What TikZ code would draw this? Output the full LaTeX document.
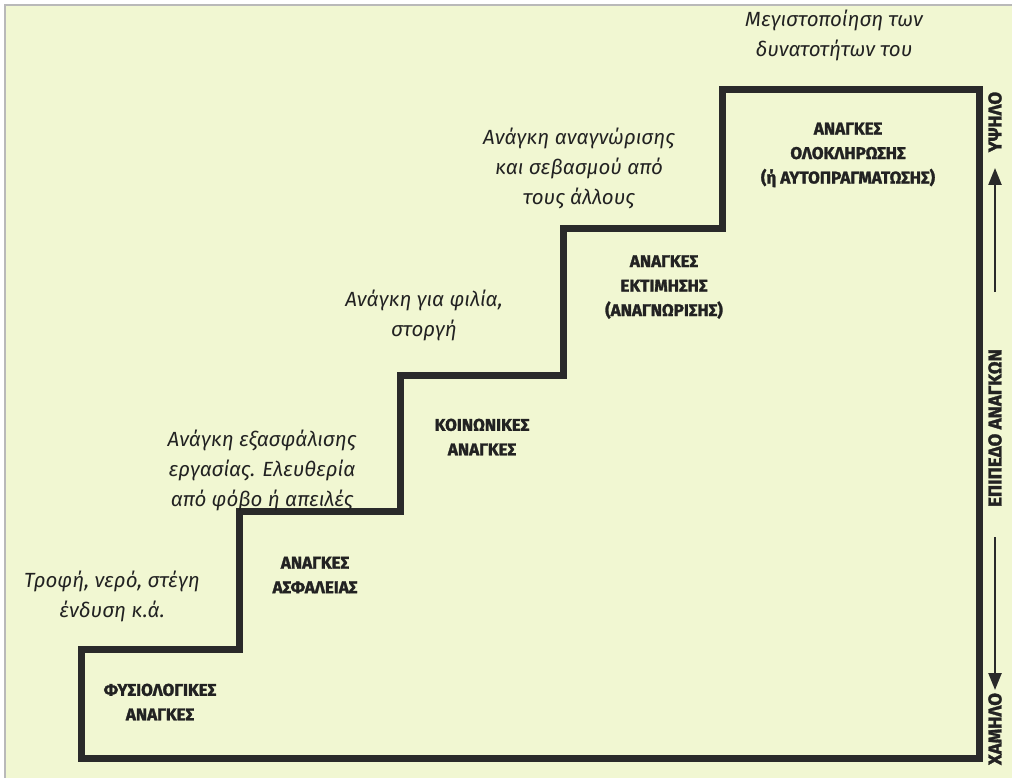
\documentclass[tikz,border=0pt]{standalone}
\usepackage{fontspec}
\setmainfont{Fira Sans}
\newfontfamily\heavy{Fira Sans}[BoldFeatures={FakeBold=1.6}]
\usetikzlibrary{arrows.meta}
\definecolor{bgc}{HTML}{F1F7D2}
\definecolor{ink}{HTML}{2A2A2A}
\definecolor{txt}{HTML}{222222}
\begin{document}
\begin{tikzpicture}[x=1pt,y=-1pt,
  need/.style={font=\fontsize{20.5}{30}\selectfont\itshape, align=center, text=txt, inner sep=0pt},
  lab/.style={font=\heavy\fontsize{17}{24.5}\selectfont\bfseries, align=center, text=txt, inner sep=0pt},
  side/.style={font=\heavy\fontsize{18.5}{20}\selectfont\bfseries, rotate=90, text=txt, inner sep=0pt},
  stair/.style={draw=ink, line width=7pt, line join=miter},
  arr/.style={draw=ink, line width=2.4pt, -{Triangle[length=17pt,width=13pt]}}]
\useasboundingbox (0,0) rectangle (1012,778);
\fill[white] (0,0) rectangle (1012,778);
\fill[bgc] (5,5) rectangle (1012,778);
\draw[gray!55, line width=1.5pt] (5,778) -- (5,5) -- (1012,5);
% staircase
\draw[stair] (81,649) -- (239,649) -- (239,511) -- (400,511) -- (400,375)
  -- (563,375) -- (563,229) -- (722,229) -- (722,90) -- (979,90)
  -- (979,758) -- (81,758) -- cycle;
% needs (italic)
\node[need] (n5) at (834,35) {Μεγιστοποίηση των\\δυνατοτήτων του};
\node[need] (n4) at (579,168) {Ανάγκη αναγνώρισης\\και σεβασμού από\\τους άλλους};
\node[need] (n3) at (424,315) {Ανάγκη για φιλία,\\στοργή};
\node[need] (n2) at (262,470) {Ανάγκη εξασφάλισης\\εργασίας. Ελευθερία\\από φόβο ή απειλές};
\node[need] (n1) at (112,596) {Τροφή, νερό, στέγη\\ένδυση κ.ά.};
% levels (bold)
\node[lab] (l1) at (160,702) {ΦΥΣΙΟΛΟΓΙΚΕΣ\\ΑΝΑΓΚΕΣ};
\node[lab] (l2) at (315,575) {ΑΝΑΓΚΕΣ\\ΑΣΦΑΛΕΙΑΣ};
\node[lab] (l3) at (482,437) {ΚΟΙΝΩΝΙΚΕΣ\\ΑΝΑΓΚΕΣ};
\node[lab] (l4) at (664,287) {ΑΝΑΓΚΕΣ\\ΕΚΤΙΜΗΣΗΣ\\(ΑΝΑΓΝΩΡΙΣΗΣ)};
\node[lab] (l5) at (848,155) {ΑΝΑΓΚΕΣ\\ΟΛΟΚΛΗΡΩΣΗΣ\\(ή ΑΥΤΟΠΡΑΓΜΑΤΩΣΗΣ)};
% side scale
\node[side] (hi) at (995,122) {ΥΨΗΛΟ};
\node[side] (lvl) at (995,428) {ΕΠΙΠΕΔΟ ΑΝΑΓΚΩΝ};
\node[side] (lo) at (995,729) {ΧΑΜΗΛΟ};
\coordinate (hiStart) at (995,292);
\coordinate (hiTip) at (995,168);
\coordinate (loStart) at (995,537);
\coordinate (loTip) at (995,690);
\draw[arr] (hiStart) -- (hiTip);
\draw[arr] (loStart) -- (loTip);
\end{tikzpicture}
\end{document}
